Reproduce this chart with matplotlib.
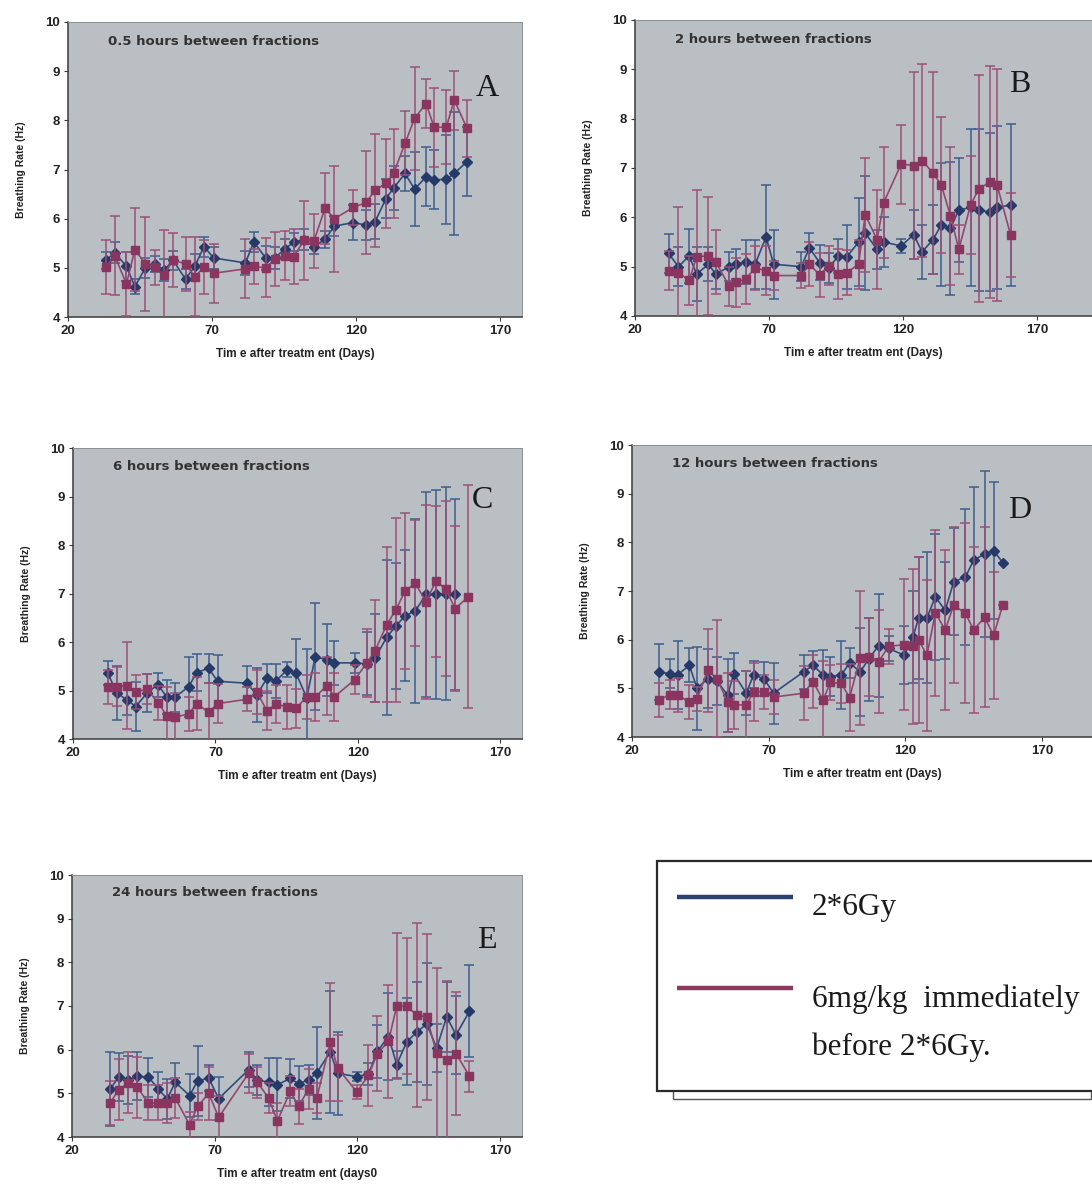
import numpy as np
import matplotlib
matplotlib.use("Agg")
import matplotlib.pyplot as plt
from matplotlib.patches import Rectangle
from matplotlib.lines import Line2D

nan = np.nan

# ---- Panel A: 0.5 hours between fractions ----
days_a = [33.1, 36.2, 40.3, 43.2, 46.9, 50.1, 53.4, 56.5, 60.8, 64.0, 67.2, 70.6,
          81.6, 84.5, 88.6, 91.8, 95.3, 98.4, 101.9, 105.4, 109.2, 112.5, 119.1,
          123.5, 126.6, 130.4, 133.0, 137.0, 140.3, 144.3, 147.1, 151.3, 154.1, 158.5]
blue_a = [5.15, 5.31, 5.03, 4.62, 5.0, 5.08, 4.96, 5.15, 4.77, 5.03, 5.43, 5.2,
          5.1, 5.53, 5.2, 5.2, 5.39, 5.52, 5.57, 5.43, 5.58, 5.85, 5.92, 5.87,
          5.94, 6.41, 6.62, 6.92, 6.6, 6.85, 6.79, 6.8, 6.92, 7.16]
blue_err_a = [0.18, 0.22, 0.3, 0.15, 0.2, 0.17, 0.22, 0.19, 0.21, 0.25, 0.2, 0.23,
              0.24, 0.2, 0.25, 0.22, 0.2, 0.18, 0.21, 0.15, 0.17, 0.2, 0.35, 0.3,
              0.35, 0.4, 0.45, 0.35, 0.75, 0.6, 0.6, 0.9, 1.25, 0.7]
red_a = [5.01, 5.25, 4.67, 5.37, 5.08, 5.01, 4.86, 5.16, 5.08, 4.82, 5.01, 4.89,
         4.98, 5.03, 5.0, 5.18, 5.25, 5.23, 5.56, 5.55, 6.21, 6.0, 6.23, 6.33,
         6.58, 6.72, 6.92, 7.53, 8.04, 8.34, 7.86, 7.86, 8.41, 7.84]
red_err_a = [0.55, 0.8, 0.65, 0.85, 0.95, 0.35, 0.9, 0.55, 0.55, 0.8, 0.55, 0.6,
             0.6, 0.35, 0.6, 0.55, 0.5, 0.55, 0.8, 0.55, 0.72, 1.08, 0.35, 1.05,
             1.15, 0.9, 0.9, 0.65, 1.05, 0.5, 0.8, 0.75, 0.6, 0.58]

# ---- Panel B: 2 hours between fractions ----
days_b = [32.5, 36.2, 40.2, 43.0, 47.4, 50.1, 55.2, 57.7, 61.3, 64.8, 68.9, 71.7,
          82.0, 85.1, 88.9, 92.2, 95.9, 99.1, 103.4, 105.9, 110.3, 112.8, 119.3,
          124.0, 127.1, 131.2, 134.3, 137.7, 140.8, 145.2, 148.3, 152.6, 155.1, 160.1]
blue_b = [5.27, 5.0, 5.22, 4.85, 5.05, 4.85, 5.0, 5.05, 5.1, 5.05, 5.6, 5.05,
          5.0, 5.38, 5.08, 4.97, 5.22, 5.2, 5.5, 5.68, 5.35, 5.5, 5.42, 5.65,
          5.3, 5.55, 5.85, 5.78, 6.15, 6.2, 6.15, 6.1, 6.2, 6.25]
blue_err_b = [0.4, 0.4, 0.55, 0.55, 0.35, 0.3, 0.3, 0.3, 0.45, 0.5, 1.05, 0.7,
              0.3, 0.3, 0.35, 0.3, 0.35, 0.65, 0.9, 1.15, 0.4, 0.5, 0.15, 0.5,
              0.55, 0.7, 1.25, 1.35, 1.05, 1.6, 1.65, 1.6, 1.65, 1.65]
red_b = [4.92, 4.88, 4.72, 5.2, 5.22, 5.1, 4.6, 4.68, 4.75, 4.97, 4.92, 4.82,
         4.82, 5.05, 4.83, 5.02, 4.85, 4.88, 5.05, 6.05, 5.55, 6.3, 7.08, 7.05,
         7.15, 6.9, 6.65, 6.03, 5.35, 6.25, 6.58, 6.72, 6.65, 5.65]
red_err_b = [0.4, 1.33, 0.5, 1.35, 1.2, 0.65, 0.4, 0.5, 0.5, 0.45, 0.5, 0.3,
             0.25, 0.45, 0.45, 0.4, 0.5, 0.45, 0.5, 1.15, 1.0, 1.12, 0.8, 1.9,
             1.95, 2.05, 1.38, 1.4, 0.5, 1.0, 2.3, 2.35, 2.35, 0.85]

# ---- Panel C: 6 hours between fractions ----
days_c = [32.2, 35.4, 39.0, 42.1, 46.0, 49.8, 53.0, 55.9, 60.6, 63.5, 67.6, 70.8,
          81.1, 84.6, 88.1, 91.3, 95.3, 98.3, 102.1, 105.1, 109.2, 111.8, 118.9,
          123.2, 126.1, 130.2, 133.4, 136.6, 140.2, 144.0, 147.4, 150.9, 154.2, 158.9]
blue_c = [5.36, 4.95, 4.8, 4.67, 4.95, 5.12, 4.86, 4.86, 5.08, 5.37, 5.46, 5.19,
          5.15, 4.91, 5.25, 5.2, 5.43, 5.36, 4.85, 5.7, 5.63, 5.57, 5.57, 5.55,
          5.67, 6.1, 6.33, 6.54, 6.64, 6.98, 6.98, 7.0, 6.98, nan]
blue_err_c = [0.25, 0.55, 0.3, 0.5, 0.4, 0.25, 0.35, 0.3, 0.62, 0.38, 0.3, 0.55,
              0.35, 0.55, 0.3, 0.35, 0.15, 0.7, 1.0, 1.1, 0.75, 0.45, 0.2, 0.65,
              0.9, 1.6, 1.3, 1.35, 1.9, 2.12, 2.15, 2.2, 1.97, nan]
red_c = [5.07, 5.08, 5.1, 4.97, 5.03, 4.75, 4.48, 4.45, 4.52, 4.73, 4.55, 4.73,
         4.82, 4.97, 4.58, 4.72, 4.66, 4.63, 4.87, 4.87, 5.1, 4.87, 5.22, 5.57,
         5.82, 6.36, 6.66, 7.05, 7.21, 6.83, 7.25, 7.1, 6.69, 6.93]
red_err_c = [0.35, 0.4, 0.9, 0.35, 0.3, 0.35, 0.6, 0.5, 0.35, 0.55, 0.6, 0.4,
             0.25, 0.45, 0.4, 0.4, 0.45, 0.4, 0.45, 0.5, 0.6, 0.5, 0.3, 0.7,
             1.05, 1.6, 1.9, 1.6, 1.3, 2.0, 1.55, 1.8, 1.7, 2.3]

# ---- Panel D: 12 hours between fractions ----
days_d = [29.8, 33.8, 36.7, 41.0, 43.8, 47.7, 51.1, 55.0, 57.2, 61.8, 64.5, 68.2,
          71.8, 82.8, 86.2, 89.9, 92.6, 96.6, 99.6, 103.5, 106.6, 110.2, 113.9,
          119.6, 122.8, 124.9, 127.9, 131.0, 134.6, 137.7, 142.0, 145.0, 149.0,
          152.3, 155.7]
blue_d = [5.34, 5.3, 5.28, 5.47, 5.0, 5.2, 5.15, 4.86, 5.3, 4.9, 5.28, 5.2,
          4.9, 5.34, 5.47, 5.28, 5.24, 5.28, 5.52, 5.34, 5.6, 5.88, 5.82, 5.68,
          6.06, 6.45, 6.45, 6.88, 6.6, 7.19, 7.29, 7.63, 7.76, 7.83, 7.58]
blue_err_d = [0.58, 0.3, 0.7, 0.35, 0.85, 0.6, 0.5, 0.75, 0.42, 0.45, 0.28, 0.35,
              0.63, 0.35, 0.3, 0.5, 0.4, 0.7, 0.3, 0.9, 0.85, 1.05, 0.25, 0.6,
              0.95, 1.25, 1.35, 1.3, 1.0, 1.1, 1.4, 1.5, 1.7, 1.4, 0.0]
red_d = [4.76, 4.87, 4.87, 4.71, 4.78, 5.37, 5.2, 4.71, 4.66, 4.66, 4.93, 4.93,
         4.82, 4.9, 5.14, 4.76, 5.12, 5.1, 4.81, 5.62, 5.65, 5.55, 5.86, 5.9,
         5.86, 5.99, 5.68, 6.55, 6.2, 6.71, 6.54, 6.2, 6.46, 6.09, 6.72]
red_err_d = [0.35, 0.3, 0.35, 0.35, 0.25, 0.85, 1.2, 0.6, 0.5, 0.7, 0.6, 0.35,
             0.35, 0.55, 0.55, 0.8, 0.35, 0.4, 0.68, 1.38, 0.8, 1.05, 0.35, 1.35,
             1.6, 1.7, 1.55, 1.7, 1.65, 1.6, 1.85, 1.7, 1.85, 1.3, 0.0]

# ---- Panel E: 24 hours between fractions ----
days_e = [33.4, 36.3, 39.8, 42.8, 46.8, 50.3, 53.3, 56.2, 61.2, 64.0, 67.9, 71.4,
          81.9, 85.0, 88.9, 92.0, 96.5, 99.4, 102.9, 105.8, 110.5, 113.1, 119.8,
          123.9, 127.0, 130.9, 133.8, 137.3, 140.8, 144.3, 147.8, 151.3, 154.6, 159.3]
blue_e = [5.1, 5.37, 5.31, 5.39, 5.37, 5.1, 4.87, 5.25, 4.95, 5.28, 5.35, 4.88,
          5.54, 5.31, 5.25, 5.2, 5.34, 5.22, 5.31, 5.47, 5.95, 5.46, 5.38, 5.44,
          5.96, 6.3, 5.66, 6.18, 6.4, 6.59, 6.04, 6.75, 6.34, 6.88]
blue_err_e = [0.85, 0.55, 0.55, 0.55, 0.45, 0.4, 0.45, 0.45, 0.5, 0.8, 0.3, 0.5,
              0.4, 0.35, 0.55, 0.6, 0.45, 0.4, 0.35, 1.05, 1.4, 0.95, 0.1, 0.25,
              0.6, 1.0, 0.3, 1.0, 1.15, 1.4, 0.55, 0.8, 0.9, 1.05]
red_e = [4.78, 5.08, 5.24, 5.14, 4.78, 4.78, 4.78, 4.89, 4.28, 4.7, 5.0, 4.45,
         5.46, 5.25, 4.89, 4.37, 5.05, 4.7, 5.1, 4.89, 6.17, 5.58, 5.03, 5.41,
         5.91, 6.19, 7.0, 7.0, 6.79, 6.75, 5.92, 5.77, 5.91, 5.39]
red_err_e = [0.5, 0.7, 0.7, 0.7, 0.4, 0.4, 0.45, 0.45, 0.3, 0.3, 0.6, 0.5,
             0.45, 0.35, 0.35, 0.4, 0.35, 0.4, 0.45, 0.35, 1.35, 0.75, 0.15, 0.7,
             0.85, 1.3, 1.68, 1.55, 2.1, 1.9, 1.95, 1.8, 1.4, 0.35]

panel_titles = ["0.5 hours between fractions", "2 hours between fractions",
                "6 hours between fractions", "12 hours between fractions",
                "24 hours between fractions"]
panel_letters = ["A", "B", "C", "D", "E"]
x_labels = ["Tim e after treatm ent (Days)", "Tim e after treatm ent (Days)",
            "Tim e after treatm ent (Days)", "Tim e after treatm ent (Days)",
            "Tim e after treatm ent (days0"]
y_label = "Breathing Rate (Hz)"
x_ticks = [20, 70, 120, 170]
y_ticks = [4, 5, 6, 7, 8, 9, 10]
legend_labels = ["2*6Gy", "6mg/kg  immediately\nbefore 2*6Gy."]

W, H = 1092, 1188
fig = plt.figure(figsize=(W / 100, H / 100), dpi=100)
fig.patch.set_facecolor("white")


def px(x, y):
    return x / W, 1 - y / H


# panel boxes in pixels: left, top, right, bottom, x-limit max
layout = [
    (68, 22, 522, 317, 177.6),
    (635, 20, 1092, 316, 190.5),
    (73, 448, 522, 739, 177.7),
    (632, 445, 1092, 737, 188.3),
    (72, 875, 522, 1137, 177.7),
]
# letter positions (pixel centres)
letter_pos = [(487, 88), (1020, 84), (482, 500), (1020, 510), (487, 940)]

data = [
    (days_a, blue_a, blue_err_a, red_a, red_err_a),
    (days_b, blue_b, blue_err_b, red_b, red_err_b),
    (days_c, blue_c, blue_err_c, red_c, red_err_c),
    (days_d, blue_d, blue_err_d, red_d, red_err_d),
    (days_e, blue_e, blue_err_e, red_e, red_err_e),
]

BG = "#b9bfc3"
BLUE_MK = "#263a6a"
BLUE_LN = "#304c7c"
BLUE_ERR = "#3d5d8e"
RED_MK = "#8a3460"
RED_LN = "#93466e"
RED_ERR = "#9c5078"
SANS = "Liberation Sans"

for i, ((l, t, r, b, xmax), (d, bv, be, rv, re)) in enumerate(zip(layout, data)):
    ax = fig.add_axes([l / W, 1 - b / H, (r - l) / W, (b - t) / H])
    ax.set_facecolor(BG)
    ax.set_xlim(20, xmax)
    ax.set_ylim(4, 10)
    ax.set_xticks(x_ticks)
    ax.set_yticks(y_ticks)
    for s in ("top", "right"):
        ax.spines[s].set_color("#8a8f94")
        ax.spines[s].set_linewidth(0.7)
    for s in ("left", "bottom"):
        ax.spines[s].set_color("#3a3a3a")
        ax.spines[s].set_linewidth(1.1)
    ax.tick_params(axis="both", direction="out", length=3, width=0.8,
                   color="#3a3a3a", labelsize=9.5, pad=2.5)
    for lab in ax.get_xticklabels() + ax.get_yticklabels():
        lab.set_fontweight("bold")
        lab.set_family(SANS)
        lab.set_color("#222222")

    ax.errorbar(d, bv, yerr=be, fmt="D-", color=BLUE_LN, mfc=BLUE_MK,
                mec=BLUE_MK, ms=5, lw=1.2, ecolor=BLUE_ERR, elinewidth=1.1,
                capsize=3.5, capthick=1.1, zorder=3)
    ax.errorbar(d, rv, yerr=re, fmt="s-", color=RED_LN, mfc=RED_MK,
                mec=RED_MK, ms=5.8, lw=1.2, ecolor=RED_ERR, elinewidth=1.1,
                capsize=3.5, capthick=1.1, zorder=4)

    ax.set_xlabel(x_labels[i], fontsize=8.5, fontweight="bold", family=SANS,
                  color="#222222", labelpad=8)
    ax.set_ylabel(y_label, fontsize=7.5, fontweight="bold", family=SANS,
                  color="#222222", labelpad=14)
    ax.text(0.088, 0.935, panel_titles[i], transform=ax.transAxes,
            fontsize=9.5, fontweight="bold", family="DejaVu Sans",
            color="#333333", va="center", ha="left")
    lx, ly = px(*letter_pos[i])
    fig.text(lx, ly, panel_letters[i], fontsize=23, family="Liberation Serif",
             color="#1a1a1a", ha="center", va="center")

# legend box drawn at figure level
sx0, sy0 = px(673, 1099)
fig.patches.append(Rectangle((sx0, sy0), (1091 - 673) / W, 20 / H,
                             transform=fig.transFigure, facecolor="white",
                             edgecolor="#555555", lw=1.0, zorder=1))
bx0, by0 = px(657, 1091)
fig.patches.append(Rectangle((bx0, by0), (1100 - 657) / W, (1091 - 861) / H,
                             transform=fig.transFigure, facecolor="white",
                             edgecolor="#2a2a2a", lw=1.6, zorder=2))
for (yy, col, lab, ty) in [(897, "#2c416f", legend_labels[0], 908),
                           (988, "#8a3a5e", legend_labels[1], 1023)]:
    x0, y0 = px(677, yy)
    x1, _ = px(793, yy)
    fig.lines.append(Line2D([x0, x1], [y0, y0], transform=fig.transFigure,
                            color=col, lw=3.2, solid_capstyle="butt", zorder=3))
    tx, tyf = px(812, ty)
    fig.text(tx, tyf, lab, fontsize=22.5, family="Liberation Serif",
             color="#1a1a1a", ha="left", va="center", linespacing=1.8,
             zorder=3)

fig.savefig("out.png", dpi=100, facecolor="white")
